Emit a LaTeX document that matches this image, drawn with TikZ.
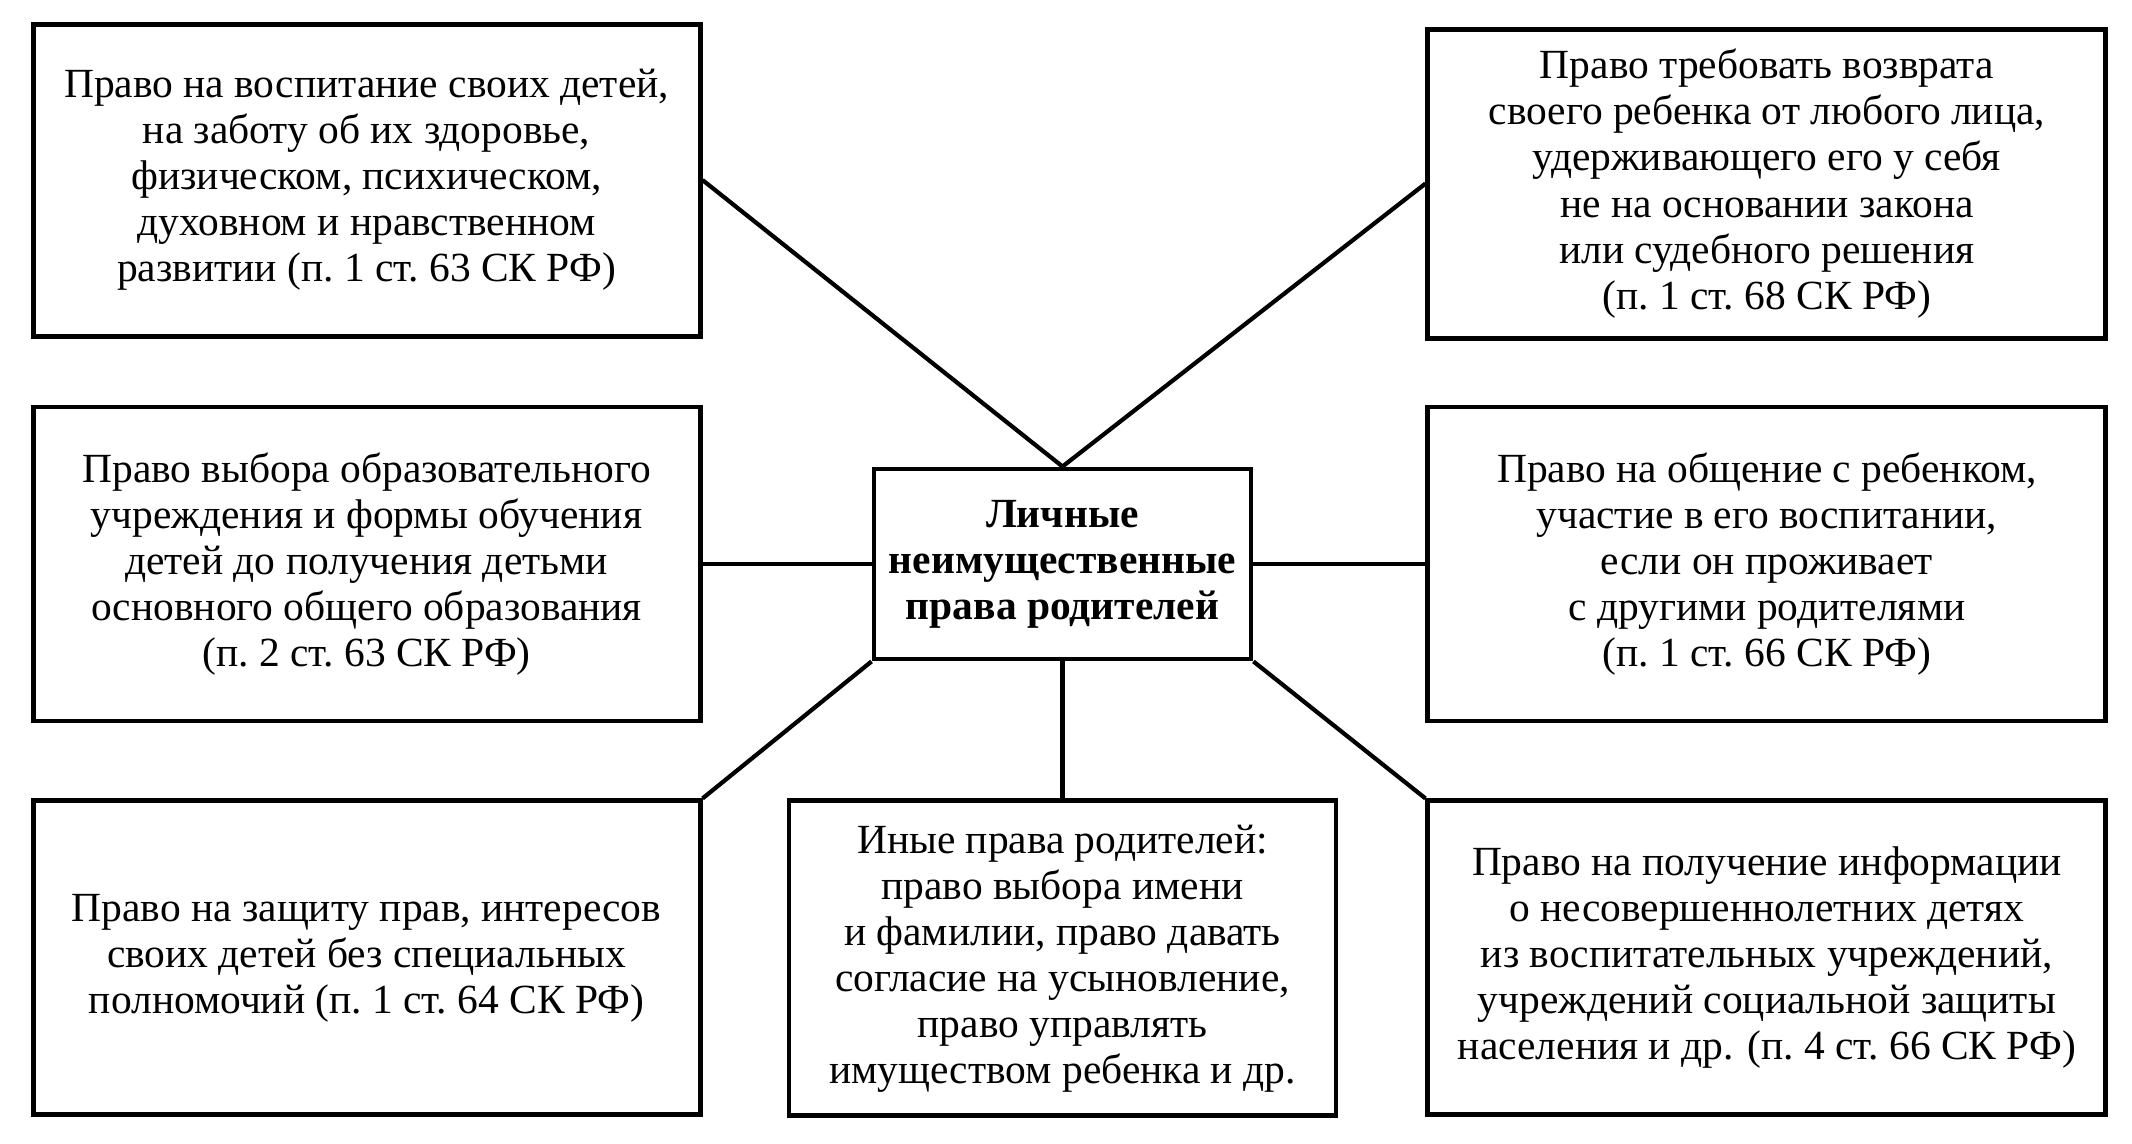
\documentclass[tikz,border=0pt]{standalone}
\usepackage{fontspec}
\setmainfont{Liberation Serif}
\usepackage{tikz}
\usetikzlibrary{positioning}

\begin{document}
\begin{tikzpicture}[node distance=7mm, every node/.style={font=\fontsize{11.8pt}{13.1pt}\selectfont}]
      \tikzset{
        rbox/.style={rectangle, draw=black, line width=1.4pt, minimum width=66.7mm, minimum height=31.4mm, align=center, inner sep=2pt},
        hub/.style={rectangle, draw=black, line width=1.4pt, minimum width=37.7mm, minimum height=19.0mm, align=center, inner sep=2pt, font=\fontsize{11.8pt}{13.1pt}\selectfont\bfseries},
        link/.style={line width=1.2pt, color=black}
      }
      \useasboundingbox (0,0) rectangle (21.32,-11.44);

      % Nodes
      \node[hub] (pers) at (10.625,-5.64) {Личные\\неимущественные\\права родителей};

      \node[rbox, left=16.9mm of pers] (educ) {Право выбора образовательного\\учреждения и формы обучения\\детей до получения детьми\\основного общего образования\\(п.~2 ст.~63 СК РФ)};
      \node[rbox, minimum width=67.8mm, right=17.2mm of pers] (talk) {Право на общение с ребенком,\\участие в его воспитании,\\если он проживает\\с другими родителями\\(п.~1 ст.~66 СК РФ)};

      \node[rbox, minimum height=31.2mm, above=6.6mm of educ] (raise) {Право на воспитание своих детей,\\на заботу об их здоровье,\\физическом, психическом,\\духовном и нравственном\\развитии (п.~1 ст.~63 СК РФ)};
      \node[rbox, minimum width=67.8mm, minimum height=30.9mm, above=6.4mm of talk] (back) {Право требовать возврата\\своего ребенка от любого лица,\\удерживающего его у себя\\не на основании закона\\или судебного решения\\(п.~1 ст.~68 СК РФ)};

      \node[rbox, below=7.5mm of educ] (guard) {Право на защиту прав, интересов\\своих детей без специальных\\полномочий (п.~1 ст.~64 СК РФ)};
      \node[rbox, minimum width=67.8mm, below=7.5mm of talk] (info) {Право на получение информации\\о несовершеннолетних детях\\из воспитательных учреждений,\\учреждений социальной защиты\\населения и др. (п.~4 ст.~66 СК РФ)};
      \node[rbox, minimum width=54.7mm, minimum height=31.5mm, below=13.7mm of pers] (other) {Иные права родителей:\\право выбора имени\\и фамилии, право давать\\согласие на усыновление,\\право управлять\\имуществом ребенка и др.};

      % Connections
      \draw[link] (raise.east) -- (pers.north);
      \draw[link] (back.west) -- (pers.north);
      \draw[link] (educ) -- (pers);
      \draw[link] (talk) -- (pers);
      \draw[link] (pers.south west) -- (guard.north east);
      \draw[link] (pers.south) -- (other.north);
      \draw[link] (pers.south east) -- (info.north west);

    \end{tikzpicture}
\end{document}
